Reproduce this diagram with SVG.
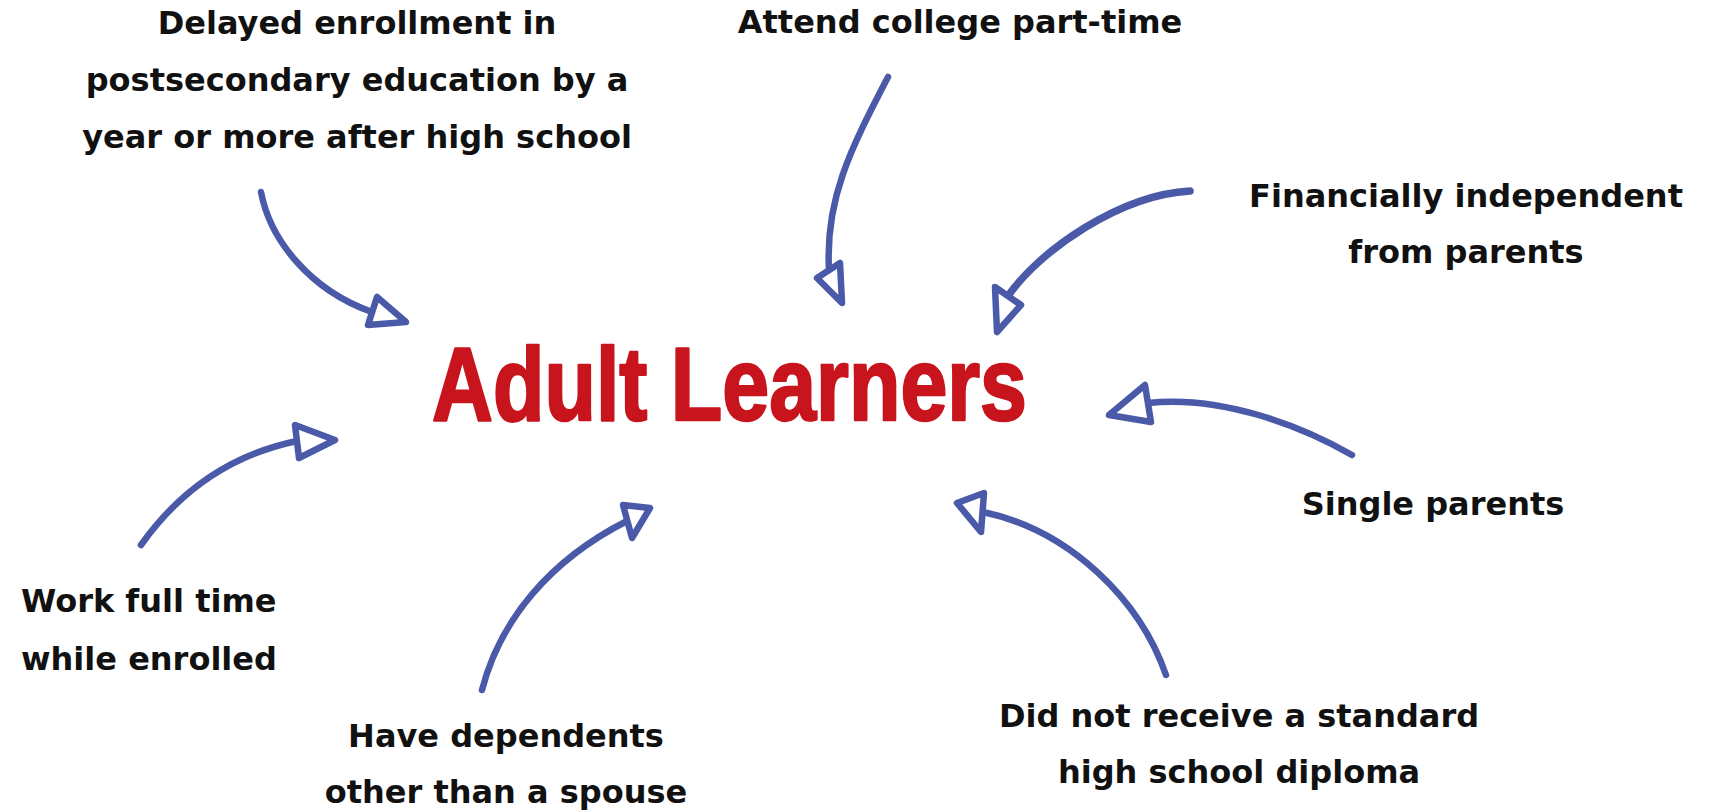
<svg xmlns="http://www.w3.org/2000/svg" width="1719" height="812" viewBox="0 0 1719 812">
<style>
.lbl{font-family:"DejaVu Sans","Verdana",sans-serif;font-weight:bold;font-size:32px;fill:#111;text-anchor:middle}
.left{text-anchor:start}
.title{font-family:"Liberation Sans Narrow","Liberation Sans",Arial,sans-serif;font-weight:bold;font-size:103px;fill:#c8141c;stroke:#c8141c;stroke-width:2.5;stroke-linejoin:round}
.arr{fill:none;stroke:#4a5aa8;stroke-width:6.5;stroke-linecap:round;stroke-linejoin:round}
.head{fill:#fff;stroke:#4a5aa8;stroke-width:6.5;stroke-linejoin:round}
</style>
<rect width="1719" height="812" fill="#fff"/>
<g id="center">
<text class="title" x="432" y="420" textLength="595" lengthAdjust="spacingAndGlyphs">Adult Learners</text>
</g>
<g id="delayed">
<text class="lbl" x="357" y="34">Delayed enrollment in</text>
<text class="lbl" x="357" y="91">postsecondary education by a</text>
<text class="lbl" x="357" y="148">year or more after high school</text>
</g>
<g id="parttime">
<text class="lbl" x="960" y="33">Attend college part-time</text>
</g>
<g id="financial">
<text class="lbl" x="1466" y="207">Financially independent</text>
<text class="lbl" x="1466" y="263">from parents</text>
</g>
<g id="single">
<text class="lbl" x="1433" y="515">Single parents</text>
</g>
<g id="diploma">
<text class="lbl" x="1239" y="727">Did not receive a standard</text>
<text class="lbl" x="1239" y="783">high school diploma</text>
</g>
<g id="dependents">
<text class="lbl" x="506" y="747">Have dependents</text>
<text class="lbl" x="506" y="803">other than a spouse</text>
</g>
<g id="work">
<text class="lbl left" x="21" y="612">Work full time</text>
<text class="lbl left" x="21" y="670">while enrolled</text>
</g>
<g id="connectors">
<path class="arr" d="M261,192 C270,240 310,290 372,312"/>
<polygon class="head" points="377,297 368,325 406,322"/>
<path class="arr" d="M888,77 C850,150 825,200 829,270"/>
<polygon class="head" points="817,278 840,263 842,303"/>
<path class="arr" d="M1190,191 C1120,195 1040,250 1008,296" style="stroke-width:7.5"/>
<polygon class="head" points="995,287 1021,305 997,332"/>
<path class="arr" d="M1352,455 C1300,425 1220,395 1148,403"/>
<polygon class="head" points="1145,385 1151,422 1109,415"/>
<path class="arr" d="M1166,675 C1140,600 1070,530 983,512"/>
<polygon class="head" points="984,493 981,532 957,503"/>
<path class="arr" d="M482,690 C500,620 550,560 627,521"/>
<polygon class="head" points="623,505 632,538 650,508"/>
<path class="arr" d="M141,545 C180,490 230,455 297,441"/>
<polygon class="head" points="295,425 299,458 335,440"/>
</g>
</svg>
